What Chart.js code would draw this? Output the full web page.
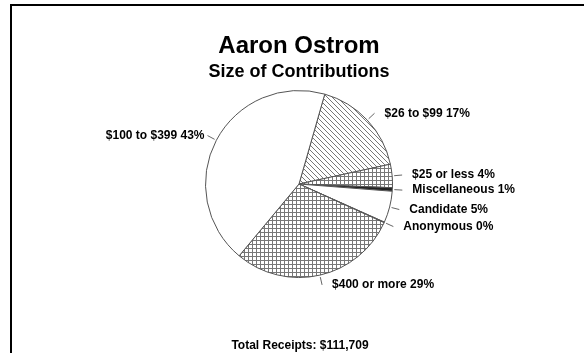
<!DOCTYPE html>
<html>
<head>
<meta charset="utf-8">
<script src="https://cdn.jsdelivr.net/npm/chart.js@4/dist/chart.umd.min.js"></script>
<style>
  html, body { margin: 0; padding: 0; background: #fff; }
</style>
</head>
<body>
<canvas id="chart" width="584" height="353"></canvas>
<script>
const categories = ["$26 to $99", "$25 or less", "Miscellaneous", "Candidate", "Anonymous", "$400 or more", "$100 to $399"];
const shares = [17, 4, 0.6, 5.4, 0.1, 29, 43];
const chartTitle = "Aaron Ostrom";
const chartSubtitle = "Size of Contributions";
const footerText = "Total Receipts: $111,709";

const canvas = document.getElementById("chart");
const ctx = canvas.getContext("2d");
const FONT = "'Liberation Sans', Arial, sans-serif";

// small tiles for the black & white fills
function makePattern(kind) {
    const size = kind === "diag" ? 5 : 4;
    const c = document.createElement("canvas");
    c.width = size; c.height = size;
    const g = c.getContext("2d");
    g.fillStyle = "#fff";
    g.fillRect(0, 0, size, size);
    g.fillStyle = "#777";
    if (kind === "diag") {
        for (let i = 0; i < size; i++) g.fillRect(i, i, 1, 1);
    } else {
        g.fillRect(0, 0, size, 1);
        g.fillRect(0, 0, 1, size);
    }
    return ctx.createPattern(c, "repeat");
}

const fills = [
    makePattern("diag"),
    makePattern("grid"),
    "#222",
    "#fff",
    "#fff",
    makePattern("grid"),
    "#fff"
];

const decor = {
    id: "decor",
    beforeDraw(chart) {
        const c = chart.ctx;
        c.save();
        c.fillStyle = "#fff";
        c.fillRect(0, 0, chart.width, chart.height);
        c.fillStyle = "#000";
        c.fillRect(10, 4, chart.width - 10, 2);
        c.fillRect(10, 4, 2, chart.height - 4);
        c.restore();
    },
    afterDatasetsDraw(chart) {
        const c = chart.ctx;
        const data = chart.data.datasets[0].data;
        const total = data.reduce((a, b) => a + b, 0);
        const meta = chart.getDatasetMeta(0);
        c.save();
        c.font = "bold 12px " + FONT;
        c.textBaseline = "middle";
        meta.data.forEach((arc, i) => {
            const p = arc.getProps(["x", "y", "startAngle", "endAngle", "outerRadius"], true);
            const mid = (p.startAngle + p.endAngle) / 2;
            const cos = Math.cos(mid), sin = Math.sin(mid);
            const x1 = p.x + cos * (p.outerRadius + 2), y1 = p.y + sin * (p.outerRadius + 2);
            const x2 = p.x + cos * (p.outerRadius + 10), y2 = p.y + sin * (p.outerRadius + 10);
            c.strokeStyle = "#666";
            c.lineWidth = 1;
            c.beginPath();
            c.moveTo(x1, y1);
            c.lineTo(x2, y2);
            c.stroke();
            const text = chart.data.labels[i] + " " + Math.round(data[i] / total * 100) + "%";
            const right = cos >= 0;
            c.textAlign = right ? "left" : "right";
            c.fillStyle = "#000";
            c.fillText(text, right ? x2 + 10 : x2 - 3, y2);
        });
        c.restore();
    },
    afterDraw(chart) {
        const c = chart.ctx;
        c.save();
        c.fillStyle = "#000";
        c.textAlign = "center";
        c.textBaseline = "alphabetic";
        c.font = "bold 24px " + FONT;
        c.fillText(chartTitle, 299, 53);
        c.font = "bold 18px " + FONT;
        c.fillText(chartSubtitle, 299, 77);
        c.font = "bold 12px " + FONT;
        c.fillText(footerText, 300, 349);
        c.restore();
    }
};

new Chart(ctx, {
    type: "pie",
    data: {
        labels: categories,
        datasets: [{
            data: shares,
            backgroundColor: fills,
            borderColor: "#555",
            borderWidth: 1
        }]
    },
    options: {
        responsive: false,
        animation: false,
        rotation: 16,
        layout: { padding: { left: 205, right: 191, top: 90, bottom: 75 } },
        plugins: {
            legend: { display: false },
            tooltip: { enabled: false }
        }
    },
    plugins: [decor]
});
</script>
</body>
</html>
